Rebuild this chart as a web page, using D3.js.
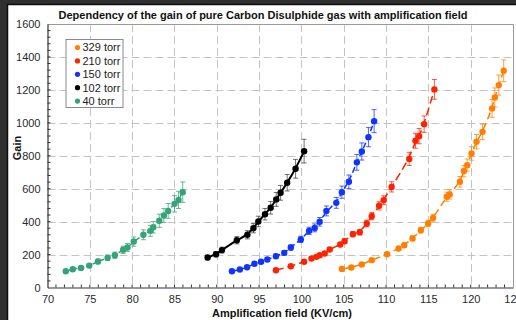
<!DOCTYPE html>
<html>
<head>
<meta charset="utf-8">
<script src="https://cdn.jsdelivr.net/npm/d3@7"></script>
<style>
  html, body { margin: 0; padding: 0; background: #2f2f2f; }
  svg { display: block; }
</style>
</head>
<body>
<div id="chart"></div>
<script>
// series labels and colours, in legend order
const seriesNames = ['329 torr', '210 torr', '150 torr', '102 torr', '40 torr'];
const seriesColors = ['#ff8000', '#ff2200', '#1034ff', '#000000', '#35a377'];
const seriesDash = ['7,4', '8,4', '6,3', null, '5,2'];

// 329 torr
const field329 = [104.78, 105.89, 107.13, 108.31, 110.12, 111.48, 112.15, 113.13, 114.11, 114.97, 115.56, 117.17, 117.52, 118.73, 119.20, 119.59, 120.10, 120.69, 121.40, 122.53, 122.85, 123.32, 123.90];
const gain329 = [113, 121, 140, 166, 202, 237, 257, 298, 348, 389, 423, 551, 565, 642, 707, 743, 814, 885, 945, 1087, 1154, 1229, 1316];
const err329 = [6, 6, 7, 8, 10, 12, 13, 15, 17, 19, 21, 28, 28, 32, 35, 37, 41, 44, 47, 54, 58, 61, 66];

// 210 torr
const field210 = [96.99, 98.75, 100.32, 101.19, 101.77, 102.16, 102.75, 103.34, 104.59, 105.10, 106.08, 106.90, 107.72, 108.31, 109.18, 109.72, 110.66, 112.74, 113.48, 113.91, 114.50, 115.71];
const gain210 = [105, 129, 156, 176, 186, 196, 206, 231, 261, 281, 324, 336, 389, 433, 496, 530, 611, 781, 891, 919, 992, 1203];
const err210 = [5, 6, 8, 9, 9, 10, 10, 12, 13, 14, 16, 17, 20, 22, 25, 27, 31, 40, 45, 46, 50, 60];

// 150 torr
const field150 = [91.79, 92.73, 93.58, 94.45, 95.23, 95.97, 96.99, 97.97, 98.75, 99.93, 100.91, 101.57, 102.16, 102.95, 104.12, 104.78, 105.61, 106.55, 107.14, 107.92, 108.59];
const gain150 = [99, 109, 123, 144, 156, 170, 190, 210, 243, 292, 344, 362, 399, 465, 514, 579, 642, 760, 826, 913, 1010];
const err150 = [5, 6, 7, 9, 10, 11, 12, 14, 16, 19, 22, 24, 26, 30, 33, 37, 41, 48, 52, 58, 70];

// 102 torr
const field102 = [88.92, 89.91, 90.61, 92.37, 93.62, 94.33, 94.91, 95.70, 96.37, 97.03, 97.54, 98.32, 99.31, 100.32];
const gain102 = [182, 202, 227, 287, 320, 360, 401, 445, 484, 535, 575, 636, 721, 828];
const err102 = [14, 16, 18, 22, 25, 28, 32, 35, 38, 42, 45, 50, 57, 72];

// 40 torr
const field40 = [72.16, 72.98, 73.96, 74.94, 75.96, 77.10, 77.96, 78.94, 79.45, 80.19, 81.33, 82.15, 82.50, 83.21, 83.75, 84.26, 85.01, 85.48, 85.98];
const gain40 = [99, 111, 119, 133, 158, 180, 196, 229, 243, 279, 320, 344, 366, 405, 437, 465, 508, 532, 579];
const err40 = [8, 10, 10, 12, 14, 17, 19, 22, 24, 28, 30, 33, 35, 40, 42, 45, 50, 52, 62];

const xTicks = [70, 75, 80, 85, 90, 95, 100, 105, 110, 115, 120, 125];
const yTicks = [0, 200, 400, 600, 800, 1000, 1200, 1400, 1600];

const fields = [field329, field210, field150, field102, field40];
const gains = [gain329, gain210, gain150, gain102, gain40];
const errs = [err329, err210, err150, err102, err40];

const width = 516;
const height = 320;
const plot = { left: 47.5, right: 513, top: 24, bottom: 287.5 };
const font = '"Liberation Sans", Arial, sans-serif';

const svg = d3.select('#chart')
  .append('svg')
  .attr('width', width)
  .attr('height', height);

// dark surround and white panel
svg.append('rect')
  .attr('width', width)
  .attr('height', height)
  .attr('fill', '#303030');
svg.append('rect')
  .attr('x', 7.5)
  .attr('y', 4.5)
  .attr('width', 520)
  .attr('height', 330)
  .attr('fill', '#ffffff')
  .attr('stroke', '#0d0d0d')
  .attr('stroke-width', 1.5);

const x = d3.scaleLinear([70, 125], [plot.left, plot.right]);
const y = d3.scaleLinear([0, 1600], [plot.bottom, plot.top]);

// grid
const grid = svg.append('g')
  .attr('stroke', '#c4c4c4')
  .attr('stroke-width', 1)
  .attr('stroke-dasharray', '8,4');
grid.selectAll('.gx')
  .data(xTicks.slice(1, -1))
  .join('line')
  .attr('x1', (d) => Math.round(x(d)) + 0.5)
  .attr('x2', (d) => Math.round(x(d)) + 0.5)
  .attr('y1', plot.top)
  .attr('y2', plot.bottom);
grid.selectAll('.gy')
  .data(yTicks.slice(1))
  .join('line')
  .attr('x1', plot.left)
  .attr('x2', plot.right)
  .attr('y1', (d) => Math.round(y(d)) + 0.5)
  .attr('y2', (d) => Math.round(y(d)) + 0.5);

// top/right frame
svg.append('path')
  .attr('d', `M${plot.left},${plot.top + 0.5}H${plot.right + 0.5}V${plot.bottom}`)
  .attr('fill', 'none')
  .attr('stroke', '#9a9a9a');

// axes
const xAxis = svg.append('g')
  .attr('transform', `translate(0,${plot.bottom})`)
  .call(d3.axisBottom(x).tickValues(xTicks).tickFormat(d3.format('d')).tickSize(0).tickPadding(8).tickSizeOuter(0));
xAxis.append('g')
  .selectAll('line')
  .data(d3.range(71, 125))
  .join('line')
  .attr('x1', (d) => x(d))
  .attr('x2', (d) => x(d))
  .attr('y1', 0)
  .attr('y2', -3)
  .attr('stroke', '#333');

const yAxis = svg.append('g')
  .attr('transform', `translate(${plot.left},0)`)
  .call(d3.axisLeft(y).tickValues(yTicks).tickFormat(d3.format('d')).tickSize(0).tickPadding(7).tickSizeOuter(0));
yAxis.append('g')
  .selectAll('line')
  .data(d3.range(40, 1600, 40))
  .join('line')
  .attr('x1', 0)
  .attr('x2', 3)
  .attr('y1', (d) => y(d))
  .attr('y2', (d) => y(d))
  .attr('stroke', '#333');

[xAxis, yAxis].forEach((g) => {
  g.select('.domain').attr('stroke', '#333').attr('stroke-width', 1.2);
  g.selectAll('.tick text')
    .attr('font-family', font)
    .attr('font-size', 11)
    .attr('fill', '#2a2a2a');
});

// series
const line = d3.line()
  .x((d) => x(d[0]))
  .y((d) => y(d[1]))
  .curve(d3.curveBasis);

const series = seriesNames.map((name, i) => ({
  name,
  color: seriesColors[i],
  dash: seriesDash[i],
  points: fields[i].map((f, j) => [f, gains[i][j], errs[i][j]]),
}));

const marks = svg.append('g');
series.slice().reverse().forEach((s) => {
  const g = marks.append('g');

  g.append('path')
    .datum(s.points)
    .attr('fill', 'none')
    .attr('stroke', s.color)
    .attr('stroke-width', s.dash ? 1.5 : 2)
    .attr('stroke-dasharray', s.dash)
    .attr('d', line);

  const eb = g.append('g')
    .attr('stroke', s.color)
    .attr('stroke-opacity', s.dash ? 0.75 : 0.55)
    .attr('stroke-width', 1);
  eb.append('g')
    .selectAll('line')
    .data(s.points)
    .join('line')
    .attr('x1', (d) => x(d[0]))
    .attr('x2', (d) => x(d[0]))
    .attr('y1', (d) => y(d[1] - d[2]))
    .attr('y2', (d) => y(d[1] + d[2]));
  eb.append('g')
    .selectAll('line')
    .data(s.points)
    .join('line')
    .attr('x1', (d) => x(d[0]) - 2.5)
    .attr('x2', (d) => x(d[0]) + 2.5)
    .attr('y1', (d) => y(d[1] + d[2]))
    .attr('y2', (d) => y(d[1] + d[2]));
  eb.append('g')
    .selectAll('line')
    .data(s.points)
    .join('line')
    .attr('x1', (d) => x(d[0]) - 2.5)
    .attr('x2', (d) => x(d[0]) + 2.5)
    .attr('y1', (d) => y(d[1] - d[2]))
    .attr('y2', (d) => y(d[1] - d[2]));

  g.append('g')
    .selectAll('circle')
    .data(s.points)
    .join('circle')
    .attr('cx', (d) => x(d[0]))
    .attr('cy', (d) => y(d[1]))
    .attr('r', 3.2)
    .attr('fill', s.color);
});

// titles
svg.append('text')
  .attr('x', 263)
  .attr('y', 19)
  .attr('text-anchor', 'middle')
  .attr('font-family', font)
  .attr('font-size', 11)
  .attr('font-weight', 'bold')
  .attr('fill', '#111')
  .text('Dependency of the gain of pure Carbon Disulphide gas with amplification field');

svg.append('text')
  .attr('x', 282)
  .attr('y', 316.5)
  .attr('text-anchor', 'middle')
  .attr('font-family', font)
  .attr('font-size', 11)
  .attr('font-weight', 'bold')
  .attr('fill', '#111')
  .text('Amplification field (KV/cm)');

svg.append('text')
  .attr('transform', 'translate(21,148) rotate(-90)')
  .attr('text-anchor', 'middle')
  .attr('font-family', font)
  .attr('font-size', 11)
  .attr('font-weight', 'bold')
  .attr('fill', '#111')
  .text('Gain');

// legend
const legend = svg.append('g')
  .attr('transform', 'translate(66,39.5)');
legend.append('rect')
  .attr('width', 57)
  .attr('height', 68)
  .attr('fill', '#fff')
  .attr('stroke', '#8a8a8a')
  .attr('stroke-width', 1);
const item = legend.selectAll('.item')
  .data(series)
  .join('g')
  .attr('transform', (d, i) => `translate(0,${8 + i * 13.4})`);
item.append('circle')
  .attr('cx', 11.5)
  .attr('cy', 0)
  .attr('r', 2.6)
  .attr('fill', (d) => d.color);
item.append('text')
  .attr('x', 16.5)
  .attr('y', 0)
  .attr('dy', '0.36em')
  .attr('font-family', font)
  .attr('font-size', 11)
  .attr('fill', '#222')
  .text((d) => d.name);
</script>
</body>
</html>
